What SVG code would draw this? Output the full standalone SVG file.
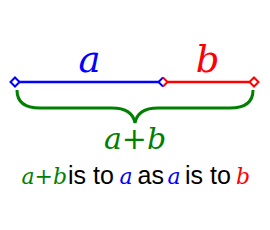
<svg xmlns="http://www.w3.org/2000/svg" width="270" height="230" viewBox="0 0 270 230">
<style>
.m{font-family:"DejaVu Serif",serif;font-style:italic}
.s{font-family:"Liberation Sans",Arial,sans-serif;fill:#000;font-size:25px}
.c{font-size:22px}
.seg{stroke-width:2.5;fill:none}
.dia{fill:#fff;stroke-width:2}
</style>
<rect width="270" height="230" fill="#fff"/>
<g id="connectors">
<line class="seg" x1="15" y1="82" x2="163" y2="82" stroke="#00f"/>
<line class="seg" x1="163" y1="82" x2="254" y2="82" stroke="#f00"/>
<path d="M17,90 C17,102 25,108 40,108 L112,108 C125,108 133,112 135,123 C137,112 145,108 158,108 L230,108 C245,108 253,102 253,90" fill="none" stroke="#008000" stroke-width="3"/>
</g>
<g id="pointA">
<polygon class="dia" stroke="#00f" points="15,77.5 19.5,82 15,86.5 10.5,82"/>
</g>
<g id="pointM">
<polyline fill="#fff" stroke="#00f" stroke-width="2" points="163,77.5 158.5,82 163,86.5"/>
<polyline fill="#fff" stroke="#f00" stroke-width="2" points="163,77.5 167.5,82 163,86.5"/>
</g>
<g id="pointB">
<polygon class="dia" stroke="#f00" points="254,77.5 258.5,82 254,86.5 249.5,82"/>
</g>
<g id="labelA"><text class="m" x="89.5" y="72" font-size="37" fill="#00f" text-anchor="middle">a</text></g>
<g id="labelB"><text class="m" x="207.5" y="72" font-size="37" fill="#f00" text-anchor="middle">b</text></g>
<g id="labelSum"><text class="m" x="135" y="149" font-size="30" fill="#008000" text-anchor="middle">a+b</text></g>
<g id="caption">
<text class="m c" x="21.5" y="184" fill="#008000">a+b</text>
<text class="s" x="68" y="184">is to</text>
<text class="m c" x="119.5" y="184" fill="#00f">a</text>
<text class="s" x="137.5" y="184">as</text>
<text class="m c" x="167.5" y="184" fill="#00f">a</text>
<text class="s" x="185" y="184">is to</text>
<text class="m c" x="236" y="184" fill="#f00">b</text>
</g>
</svg>
